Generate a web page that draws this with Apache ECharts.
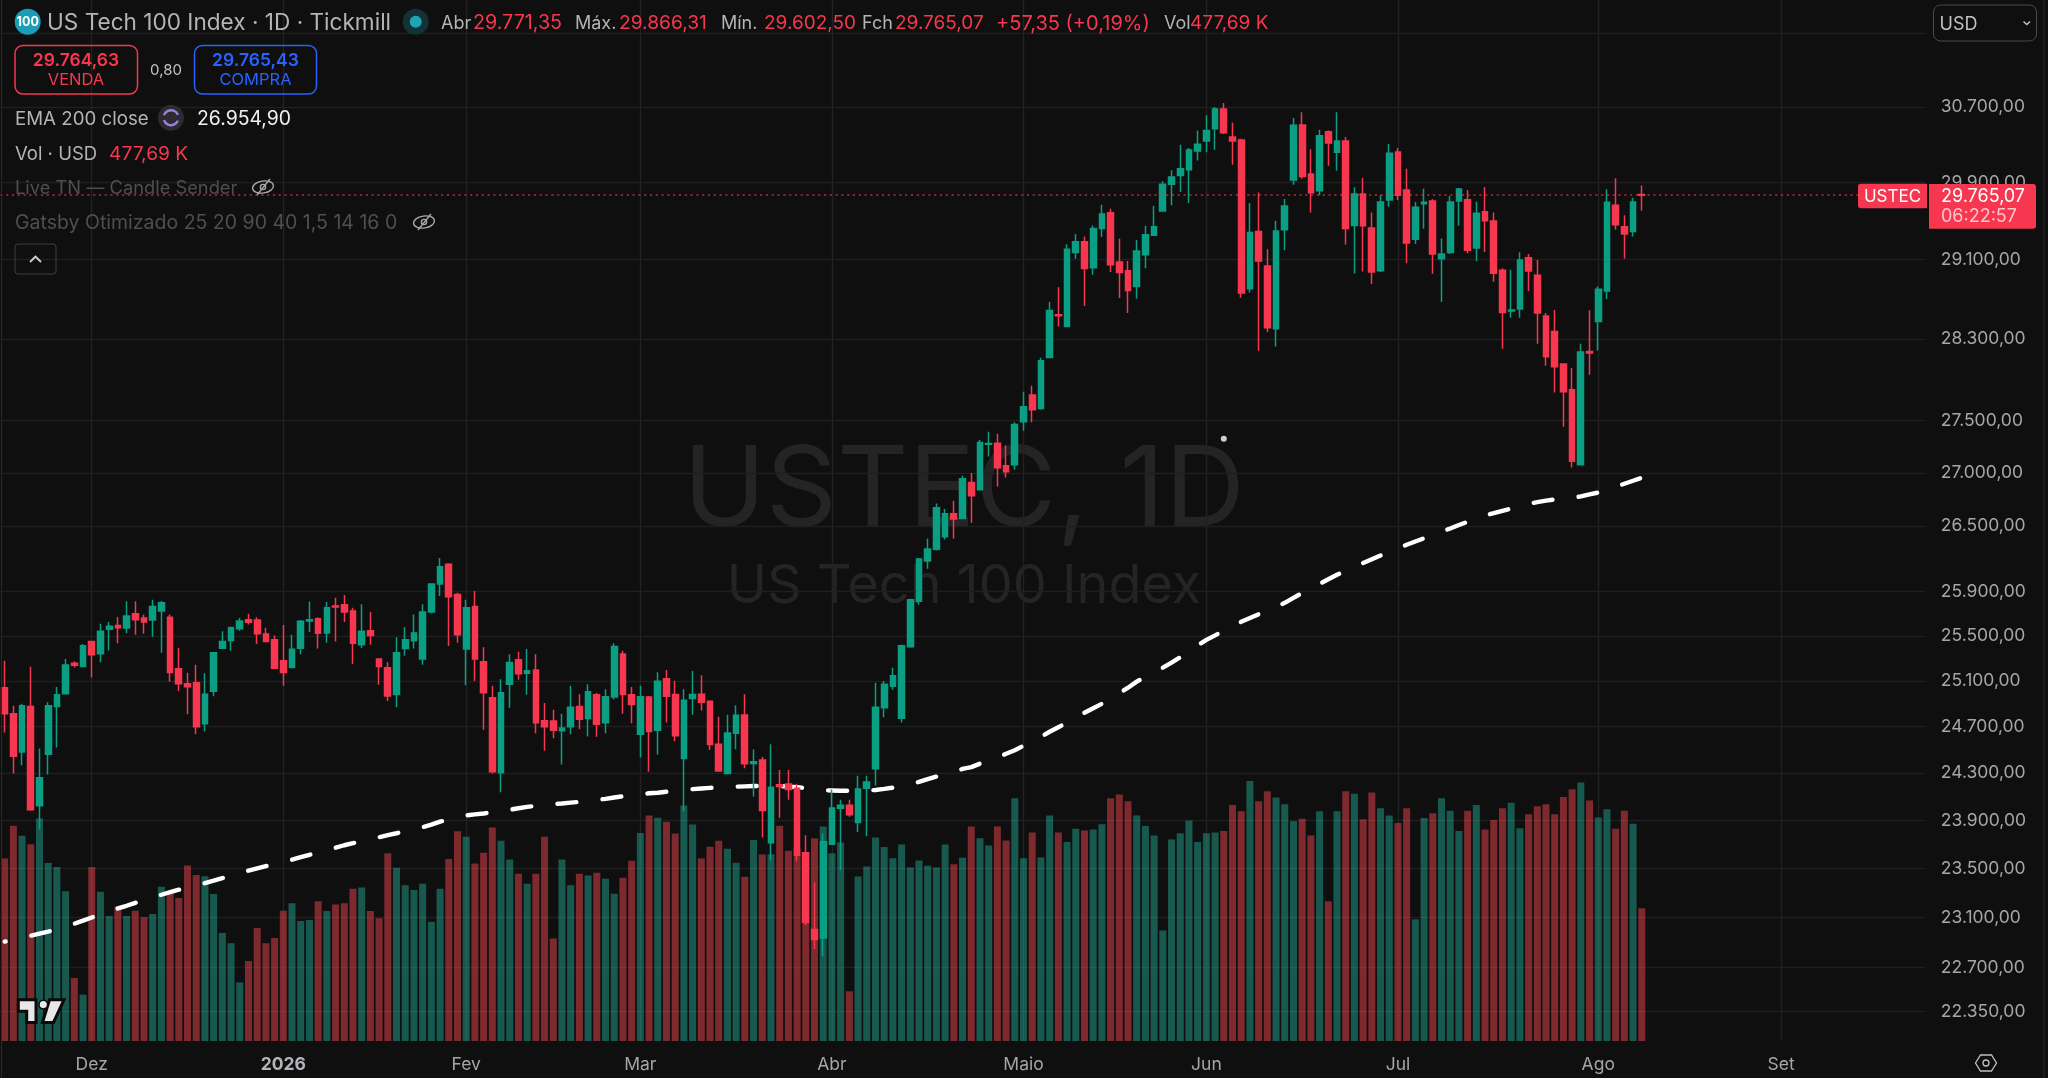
<!DOCTYPE html>
<html><head><meta charset="utf-8">
<style>html,body{margin:0;padding:0;background:#0f0f0f}#c{width:2048px;height:1078px}</style>
<script src="https://cdn.jsdelivr.net/npm/echarts@6/dist/echarts.min.js"></script>
</head><body><div id="c"></div>
<script>
const opens=[25040,24813,24481,24875,24023,24462,24875,24987,25256,25227,25449,25341,25558,25593,25570,25699,25660,25641,25724,25667,25206,25074,25083,24726,25008,25389,25459,25564,25644,25641,25516,25465,25278,25218,25389,25634,25654,25526,25769,25779,25724,25421,25545,25294,25215,24980,25386,25456,25294,25715,25969,26148,25872,25383,25763,25268,24952,24304,25071,25287,25168,25196,24751,24748,24665,24699,24875,24770,24977,24733,24958,25338,24977,24634,24958,24668,25118,24980,24426,24946,24983,24921,24548,24298,24643,24801,24383,24413,23713,24201,24207,24171,23631,23003,22934,23702,24002,24029,23883,24171,24337,24865,25052,24773,25402,25812,26178,26287,26402,26616,26572,26910,26841,27274,27284,27068,27077,27489,27750,27617,28116,28541,28424,29171,29281,29015,29418,29581,29076,28985,28827,29150,29348,29601,29879,29971,30031,30230,30337,30466,30680,30380,30348,28802,29387,29035,28401,29405,29925,30508,29987,29810,30434,30217,30337,29449,29778,29425,28985,29715,30220,29820,29309,29676,29705,29107,29171,29705,29718,29219,29591,29495,28992,28580,28600,29117,28941,28528,28374,28052,27799,27077,28175,28475,28781,29660,29436,29387,29771.35];
const highs=[25278,24881,24899,25224,24511,24912,25046,25294,25271,25427,25456,25609,25625,25670,25811,25811,25692,25824,25814,25692,25392,25171,25243,25168,25354,25542,25583,25660,25699,25667,25573,25503,25596,25510,25641,25808,25667,25804,25843,25869,25753,25785,25715,25300,25265,25488,25577,25692,25785,25975,26206,26157,25888,25824,25904,25399,25058,25115,25335,25357,25383,25335,24906,24847,24813,25058,24983,25071,24993,25027,25434,25367,25046,25058,24968,25177,25196,25102,25027,25187,25149,24924,24785,24804,24887,24983,24502,24438,24548,24328,24328,24210,23777,23385,23790,24162,24074,24074,24277,24277,25083,25099,25215,25420,25833,26205,26386,26712,26660,26739,26974,26999,27315,27393,27373,27264,27486,27780,27838,28113,28670,28819,29257,29363,29336,29449,29666,29622,29312,29086,29301,29446,29653,29910,30027,30295,30262,30448,30612,30701,30744,30533,30359,29684,29793,29205,29498,29725,30583,30644,30248,30456,30448,30644,30380,29848,29945,29584,29764,30305,30262,30041,29694,29833,29722,29315,29757,29841,29820,29697,29851,29584,29012,28995,29175,29157,29096,28558,28590,28061,28012,28252,28587,28825,29827,29942,29556,29739,29866.31];
const lows=[24649,24298,24368,23981,23826,24289,24521,24983,25218,25224,25130,25265,25370,25434,25523,25510,25519,25491,25348,25093,25012,24807,24634,24658,24965,25386,25367,25545,25602,25427,25449,25209,25058,25212,25335,25535,25386,25437,25449,25625,25249,25392,25421,25065,24924,24869,25322,25386,25243,25702,25859,25408,25437,25062,25099,24674,24298,24138,24865,25109,24977,24643,24493,24600,24374,24634,24677,24615,24612,24643,24937,24813,24730,24435,24313,24459,24736,24573,23975,24804,24841,24499,24316,24289,24505,24343,24101,23758,23566,23922,24074,23561,23037,22845,22786,23699,23487,23931,23803,23767,24195,24782,25021,24736,25393,25779,26107,26275,26377,26386,26569,26532,26841,27156,26872,26957,27030,27402,27486,27605,28116,28424,28421,29107,28629,28944,29332,28974,28710,28558,28703,29012,29348,29591,29660,29799,29684,30128,30217,30244,30412,30083,28713,28764,28182,28369,28225,29195,29873,29937,29584,29765,30073,30020,29253,28957,28978,28852,28974,29643,29715,29065,29260,29415,28954,28670,29157,29446,29164,29083,29178,28873,28202,28511,28511,28781,28252,28035,27773,27441,27052,27077,27946,28185,28700,29405,29107,29335,29602.5];
const closes=[24813,24444,24881,23990,24261,24881,24977,25240,25237,25411,25332,25542,25586,25573,25679,25644,25625,25763,25798,25174,25074,25049,24699,24983,25348,25449,25573,25634,25622,25519,25449,25212,25174,25380,25631,25644,25523,25753,25760,25715,25434,25542,25503,25227,24968,25348,25465,25526,25715,25969,26125,25853,25510,25753,25294,24996,24313,24996,25262,25162,25190,24733,24699,24668,24689,24869,24764,25005,24720,24961,25405,24980,24893,24961,24658,25096,24965,24622,24930,24980,24912,24545,24319,24646,24798,24380,24398,23984,24180,24186,24162,23611,23060,22922,23722,24005,24029,23949,24165,24225,24869,25071,25146,25411,25824,26196,26290,26672,26616,26567,26945,26784,27289,27280,27049,27011,27463,27634,27605,28084,28583,28531,29205,29281,29008,29418,29570,29046,28967,28785,29188,29355,29438,29879,29954,30041,30241,30302,30448,30680,30423,30337,28761,29377,29086,28411,29394,29653,30505,29961,29789,30391,30316,30337,29418,29778,29446,28974,29694,30206,29764,29270,29640,29691,29157,29157,29694,29830,29195,29577,29498,28961,28564,28590,29096,28982,28558,28123,28025,27780,27112,28172,28160,28799,29691,29457,29361,29694,29765.07];
const volumes=[657,775,739,708,801,641,626,539,227,167,626,537,450,483,450,469,446,457,555,532,515,632,598,593,529,389,352,211,288,407,352,371,469,496,432,436,503,468,491,496,548,553,468,442,676,624,561,544,566,429,548,655,755,735,639,678,769,721,653,602,566,602,735,369,653,561,602,596,606,584,530,588,649,749,812,804,789,747,848,779,657,699,721,692,642,591,724,671,672,775,685,692,679,730,772,676,715,179,592,628,733,698,658,707,625,650,631,625,707,636,660,772,730,704,772,722,874,658,751,661,812,751,716,764,758,761,780,874,887,863,812,774,740,398,725,748,794,716,748,751,756,850,827,936,863,899,877,852,791,800,740,827,503,827,899,890,798,895,838,812,785,838,438,803,820,874,829,756,829,850,761,796,838,858,766,816,845,852,816,878,906,931,866,805,834,764,829,782,477.69];
const ema200=[22905,22921,22937,22953,22970,22986,23006,23026,23050,23075,23100,23124,23149,23174,23195,23219,23244,23265,23285,23306,23326,23343,23363,23380,23400,23421,23442,23462,23483,23502,23520,23536,23553,23573,23594,23614,23633,23653,23672,23693,23710,23730,23743,23760,23777,23793,23810,23827,23844,23865,23890,23907,23923,23943,23951,23959,23968,23978,23990,24003,24014,24024,24032,24038,24043,24050,24057,24064,24074,24082,24093,24104,24115,24122,24129,24134,24142,24151,24158,24164,24170,24175,24178,24181,24185,24188,24191,24192,24192,24190,24186,24181,24173,24164,24155,24153,24151,24151,24151,24153,24157,24166,24177,24187,24207,24226,24249,24271,24292,24313,24336,24352,24381,24407,24436,24466,24496,24535,24574,24613,24656,24695,24734,24778,24821,24860,24899,24943,24991,25040,25093,25137,25177,25217,25261,25309,25371,25415,25464,25504,25545,25589,25626,25660,25694,25725,25761,25797,25842,25886,25929,25970,26011,26052,26089,26126,26161,26195,26229,26263,26296,26328,26358,26388,26418,26449,26479,26511,26541,26572,26600,26621,26644,26665,26688,26709,26725,26739,26750,26757,26765,26779,26798,26815,26841,26869,26898,26926,26954.9];
const priceTicks=[22350,22700,23100,23500,23900,24300,24700,25100,25500,25900,26500,27000,27500,28300,29100,29900,30700];
const gridOnlyTicks=[31500];
const monthLabels=['Dez','2026','Fev','Mar','Abr','Maio','Jun','Jul','Ago','Set'];
const monthStarts=[10,32,53,73,95,117,138,160,183,204];
const lastPrice=29765.07;
const strayPoint=[140,27327];
const slots=221;

const categories=[];for(let i=0;i<slots;i++){const m=monthStarts.indexOf(i);categories.push(m>=0?monthLabels[m]:'');}
const candles=opens.map((o,i)=>[o,closes[i],lows[i],highs[i]]);
const RED='#f7374f',GREEN='#0a9e82',FONT='Inter, "Open Sans", sans-serif',GREY='#b4b4b8',DIM='#4f4f4f';
const fmt=v=>Number(v).toLocaleString('pt-BR',{minimumFractionDigits:2,maximumFractionDigits:2});

function T(text,x,y,size,fill,extra){return {type:'text',z:100,silent:true,style:Object.assign({text,x,y:y+1.5,fill,font:size+'px '+FONT,verticalAlign:'middle'},extra||{})};}
function eyeOff(cx,cy){const c='#a8a8a8';return [
 {type:'ellipse',z:100,silent:true,shape:{cx,cy,rx:10.5,ry:6},style:{fill:'none',stroke:c,lineWidth:1.4},rotation:0.15,originX:cx,originY:cy},
 {type:'circle',z:100,silent:true,shape:{cx,cy,r:2.6},style:{fill:'none',stroke:c,lineWidth:1.4}},
 {type:'line',z:100,silent:true,shape:{x1:cx-6,y1:cy+8,x2:cx+7,y2:cy-8},style:{stroke:c,lineWidth:1.4}}];}
const RR=(x,y,w,h,r,fill,stroke,lw)=>({type:'rect',z:99,silent:true,shape:{x,y,width:w,height:h,r},style:{fill:fill||'none',stroke:stroke||'none',lineWidth:lw||0}});
const graphicEls=[
 // watermark
 {type:'text',z:0,silent:true,style:{text:'USTEC, 1D',x:964,y:493,fill:'#242424',font:'111px '+FONT,align:'center',verticalAlign:'middle'}},
 {type:'text',z:0,silent:true,style:{text:'US Tech 100 Index',x:964,y:587,fill:'#242424',font:'54px '+FONT,align:'center',verticalAlign:'middle'}},
 // left border and right border
 {type:'line',z:99,silent:true,shape:{x1:1.5,y1:0,x2:1.5,y2:1078},style:{stroke:'#2a2a2a',lineWidth:1}},
 {type:'line',z:99,silent:true,shape:{x1:2044,y1:0,x2:2044,y2:1078},style:{stroke:'#2a2a2a',lineWidth:1}},
 // title row
 {type:'circle',z:99,silent:true,shape:{cx:27.7,cy:21.7,r:13},style:{fill:'#1b9db8'}},
 T('100',27.7,20.5,12.5,'#fff',{align:'center',font:'700 12.5px '+FONT}),
 T('US Tech 100 Index · 1D · Tickmill',47,22,22.6,GREY),
 {type:'circle',z:99,silent:true,shape:{cx:415.7,cy:21.7,r:13},style:{fill:'#123235'}},
 {type:'circle',z:99,silent:true,shape:{cx:415.7,cy:21.7,r:6},style:{fill:'#1ea5b5'}},
 T('Abr',441,22,18,GREY),T('29.771,35',473,22,19.7,RED),
 T('Máx.',575,22,18,GREY),T('29.866,31',619,22,19.2,RED),
 T('Mín.',721,22,18,GREY),T('29.602,50',764,22,19,RED),
 T('Fch',862,22,18,GREY),T('29.765,07',895,22,19,RED),
 T('+57,35 (+0,19%)',996,22,20,RED),
 T('Vol',1164,22,18,GREY),T('477,69 K',1190,22,19,RED),
 // buy/sell
 RR(15,45.5,122.5,48.5,8,'none',RED,1.5),
 T('29.764,63',76,59,17.5,RED,{align:'center',font:'600 17.5px '+FONT}),
 T('VENDA',76,79,16.5,RED,{align:'center'}),
 T('0,80',166,68.5,15,'#c4c4c4',{align:'center'}),
 RR(194.5,45.5,122,48.5,8,'none','#2962ff',1.5),
 T('29.765,43',255.5,59,17.5,'#2962ff',{align:'center',font:'600 17.5px '+FONT}),
 T('COMPRA',255.5,79,16.5,'#2962ff',{align:'center'}),
 // legend rows
 T('EMA 200 close',15,117.5,18.7,GREY),
 {type:'circle',z:99,silent:true,shape:{cx:171,cy:117.7,r:13},style:{fill:'#2b2b30'}},
 {type:'arc',z:100,silent:true,shape:{cx:171,cy:117.7,r:7.5,startAngle:3.5,endAngle:5.9},style:{fill:'none',stroke:'#9f7fe0',lineWidth:2.4}},
 {type:'arc',z:100,silent:true,shape:{cx:171,cy:117.7,r:7.5,startAngle:0.4,endAngle:2.8},style:{fill:'none',stroke:'#9f7fe0',lineWidth:2.4}},
 T('26.954,90',197,117.5,19.4,'#f0f0f0'),
 T('Vol · USD',15,152.5,18.5,GREY),
 T('477,69 K',109,152.5,19.2,RED),
 T('Live TN — Candle Sender',15,187,18.3,DIM),
 ...eyeOff(263,187),
 T('Gatsby Otimizado 25 20 90 40 1,5 14 16 0',15,222,19.5,DIM),
 ...eyeOff(424,222),
 RR(15,244,41,30,3,'none','#3e3e3e',1),
 {type:'polyline',z:100,silent:true,shape:{points:[[30,262],[35.5,256.5],[41,262]]},style:{fill:'none',stroke:'#d0d0d0',lineWidth:1.8}},
 // USD select
 RR(1933.5,5,103,36,7,'#0f0f0f','#4a4a4a',1),
 T('USD',1939.5,23.5,18,'#c0c0c4'),
 {type:'polyline',z:100,silent:true,shape:{points:[[2023.5,21.5],[2026.8,24.5],[2030,21.5]]},style:{fill:'none',stroke:'#c0c0c4',lineWidth:1.5}},
 // last price tags
 RR(1858,183.7,69,24.5,[3,0,0,3],RED),
 T('USTEC',1892.5,195,17,'#fff',{align:'center'}),
 RR(1929,184,107,44.7,[0,3,3,0],RED),
 T('29.765,07',1941,195,18,'#fff'),
 T('06:22:57',1941,215,18,'#fbc3cb'),
 // logo
 {type:'polygon',z:90,silent:true,shape:{points:[[18.3,999.7],[36,999.7],[36,1022.5],[26.7,1022.5],[26.7,1011.2],[18.3,1011.2]]},style:{fill:'#e8e8e8',stroke:'#0a0a0a',lineWidth:3}},
 {type:'polygon',z:90,silent:true,shape:{points:[[49.5,999.7],[64,999.7],[53.5,1022.5],[42.5,1022.5]]},style:{fill:'#e8e8e8',stroke:'#0a0a0a',lineWidth:3}},
 {type:'circle',z:91,silent:true,shape:{cx:43.3,cy:1004.6,r:4.3},style:{fill:'#e8e8e8',stroke:'#0a0a0a',lineWidth:1.5}},
 // settings hex
 {type:'polygon',z:100,silent:true,shape:{points:[[1975.5,1063],[1980.5,1055],[1991.5,1055],[1996.5,1063],[1991.5,1071],[1980.5,1071]]},style:{fill:'none',stroke:'#c0c0c0',lineWidth:1.3}},
 {type:'circle',z:100,silent:true,shape:{cx:1986,cy:1063,r:3},style:{fill:'none',stroke:'#c0c0c0',lineWidth:1.3}}
];
const chart=echarts.init(document.getElementById('c'),null,{renderer:'canvas',width:2048,height:1078});
chart.setOption({
 animation:false,backgroundColor:'#0f0f0f',
 textStyle:{fontFamily:FONT},
 graphic:{elements:graphicEls},
 grid:[{left:0.3,top:0,width:1924.5,height:1041,containLabel:false},{left:0.3,top:741,width:1924.5,height:300}],
 xAxis:[
  {type:'category',data:categories,gridIndex:0,boundaryGap:true,
   axisLine:{show:false},axisTick:{show:false},
   axisLabel:{interval:0,color:'#a6a6aa',fontSize:17.5,margin:15,fontFamily:FONT,hideOverlap:false,
     formatter:v=>v==='2026'?'{b|2026}':v,rich:{b:{fontWeight:700,fontSize:17.5,color:'#b4b4b8',fontFamily:FONT}}},
   splitLine:{show:true,alignWithLabel:true,interval:(i,v)=>v!=='',lineStyle:{color:'#222222',width:1.4}}},
  {type:'category',data:categories,gridIndex:1,axisLine:{show:false},axisTick:{show:false},axisLabel:{show:false},splitLine:{show:false}}
 ],
 yAxis:[
  {type:'log',gridIndex:0,position:'right',min:22120,max:31875,logBase:10,
   axisLine:{show:false},
   axisTick:{show:false,customValues:priceTicks.concat(gridOnlyTicks)},
   minorTick:{show:false},minorSplitLine:{show:false},
   axisLabel:{customValues:priceTicks,color:'#a6a6aa',fontSize:17.5,margin:16,fontFamily:FONT,formatter:fmt,showMinLabel:true,showMaxLabel:true,hideOverlap:false},
   splitLine:{show:true,lineStyle:{color:'#1f1f1f',width:1.4}}},
  {type:'value',gridIndex:1,min:0,max:1080,show:false,splitLine:{show:false}}
 ],
 series:[
  {name:'Vol',type:'bar',xAxisIndex:1,yAxisIndex:1,z:1,barWidth:7,data:volumes.map((v,i)=>({value:v,itemStyle:{color:closes[i]>=opens[i]?'rgba(35,172,150,0.48)':'rgba(247,72,80,0.48)'}}))},
  {name:'EMA 200',type:'line',xAxisIndex:0,yAxisIndex:0,z:2,data:ema200,symbol:'none',smooth:false,lineStyle:{color:'#fff',width:4.4,type:[19,26.3],dashOffset:18,cap:'round'}},
  {name:'USTEC',type:'candlestick',xAxisIndex:0,yAxisIndex:0,z:3,barWidth:6.2,data:candles,
   itemStyle:{color:GREEN,color0:RED,borderColor:GREEN,borderColor0:RED,borderWidth:1.5},
   markLine:{silent:true,symbol:'none',label:{show:false},lineStyle:{color:RED,type:[2.2,3.6],width:1.6,opacity:0.7},data:[{yAxis:lastPrice}]}},
  {name:'marker',type:'scatter',xAxisIndex:0,yAxisIndex:0,z:4,symbolSize:6,itemStyle:{color:'#fff'},data:[strayPoint]}
 ]
});
</script></body></html>
